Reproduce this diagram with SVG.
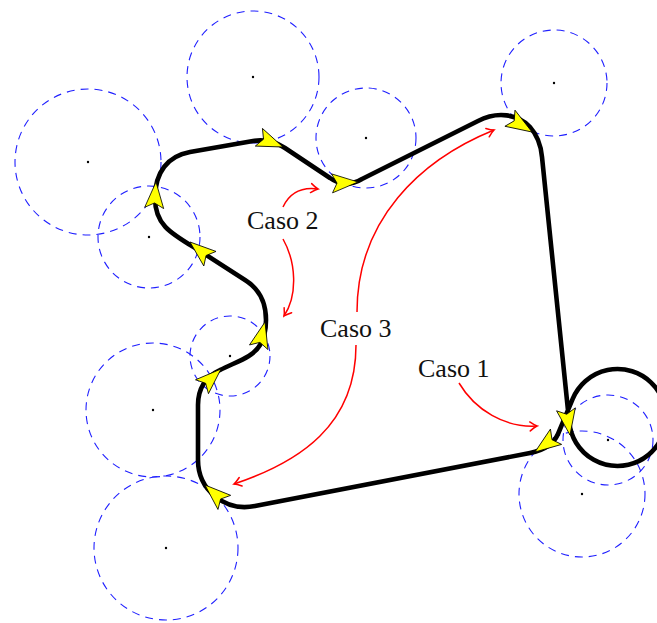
<svg xmlns="http://www.w3.org/2000/svg" xmlns:xlink="http://www.w3.org/1999/xlink" width="657" height="623" viewBox="0 0 657 623">
<style>
.zone{fill:none;stroke:#1f1fff;stroke-width:1.1;stroke-dasharray:8 6}
.dot{fill:#000}
.track{fill:none;stroke:#000;stroke-width:4.6;stroke-linejoin:round;stroke-linecap:round}
.red{fill:none;stroke:#ff0000;stroke-width:1.5;marker-end:url(#ra)}
.lbl{font-family:"Liberation Serif","Times New Roman",serif;font-size:26px;fill:#111}
</style>
<defs>
<marker id="ra" viewBox="-10 -6 12 12" refX="0" refY="0" markerWidth="12" markerHeight="12" markerUnits="userSpaceOnUse" orient="auto">
<path d="M-7,-4.5 Q-2.5,-1 0,0 Q-2.5,1 -7,4.5" fill="none" stroke="#ff0000" stroke-width="1.5" stroke-linecap="round"/>
</marker>
<path id="ya" d="M0,0 L-26,-9.5 L-21,0 L-26,9.5 Z" fill="#ffff00" stroke="#000" stroke-width="0.8" stroke-linejoin="miter"/>
</defs>
<rect width="657" height="623" fill="#fff"/>
<g id="zones">
<g id="z1"><circle class="zone" cx="253" cy="77" r="66"/><circle class="dot" cx="253" cy="77" r="1.2"/></g>
<g id="z2"><circle class="zone" cx="88" cy="162" r="73"/><circle class="dot" cx="88" cy="162" r="1.2"/></g>
<g id="z3"><circle class="zone" cx="149" cy="237" r="51"/><circle class="dot" cx="149" cy="237" r="1.2"/></g>
<g id="z4"><circle class="zone" cx="366" cy="138" r="50"/><circle class="dot" cx="366" cy="138" r="1.2"/></g>
<g id="z5"><circle class="zone" cx="554" cy="83" r="53"/><circle class="dot" cx="554" cy="83" r="1.2"/></g>
<g id="z6"><circle class="zone" cx="230" cy="356" r="40"/><circle class="dot" cx="230" cy="356" r="1.2"/></g>
<g id="z7"><circle class="zone" cx="153" cy="410" r="67"/><circle class="dot" cx="153" cy="410" r="1.2"/></g>
<g id="z8"><circle class="zone" cx="166" cy="548" r="72"/><circle class="dot" cx="166" cy="548" r="1.2"/></g>
<g id="z9"><circle class="zone" cx="608" cy="440" r="45"/><circle class="dot" cx="608" cy="440" r="1.2"/></g>
<g id="z10"><circle class="zone" cx="582" cy="494" r="63"/><circle class="dot" cx="582" cy="494" r="1.2"/></g>
</g>
<g id="route">
<path class="track" d="M190,152 L253,141 C266,139 276,142 285,148 L330,178 C341,186 352,185 362,179 L478,121 C497,111 518,114 530,127 C538,136 541,146 542,157 L569.2,422.1 A48.5,48.5 0 1 0 572.8,398.7 L558,434 C554,443 545,450 530,453 L255,506 C225,512 198,490 198,460 L198,405 C198,392 203,378 220,370 C238,361 253,357 260,345 C265,337 266,330 266,320 C266,300 258,288 245,280 L200,251 C172,234 155,226 155,198 C155,172 168,156 190,152 Z"/>
<use xlink:href="#ya" transform="translate(283,147) rotate(22)"/>
<use xlink:href="#ya" transform="translate(358,182) rotate(-3)"/>
<use xlink:href="#ya" transform="translate(532,132) rotate(32)"/>
<use xlink:href="#ya" transform="translate(570,435) rotate(81)"/>
<use xlink:href="#ya" transform="translate(535,452) rotate(144)"/>
<use xlink:href="#ya" transform="translate(205,485) rotate(-138)"/>
<use xlink:href="#ya" transform="translate(221,369) rotate(-43)"/>
<use xlink:href="#ya" transform="translate(265,322) rotate(-76)"/>
<use xlink:href="#ya" transform="translate(190,242) rotate(-140)"/>
<use xlink:href="#ya" transform="translate(156,182) rotate(-86)"/>
</g>
<g id="connectors">
<path class="red" d="M459,383 C475,410 505,428 537,426"/>
<path class="red" d="M283,207 C290,192 303,187 318,189"/>
<path class="red" d="M283,239 C296,262 298,295 284,316"/>
<path class="red" d="M357,312 C357,220 420,160 494,130"/>
<path class="red" d="M356,345 C356,425 300,462 234,484"/>
</g>
<g id="caso1"><text class="lbl" x="418" y="377">Caso 1</text></g>
<g id="caso2"><text class="lbl" x="247" y="229">Caso 2</text></g>
<g id="caso3"><text class="lbl" x="320" y="337">Caso 3</text></g>
</svg>
